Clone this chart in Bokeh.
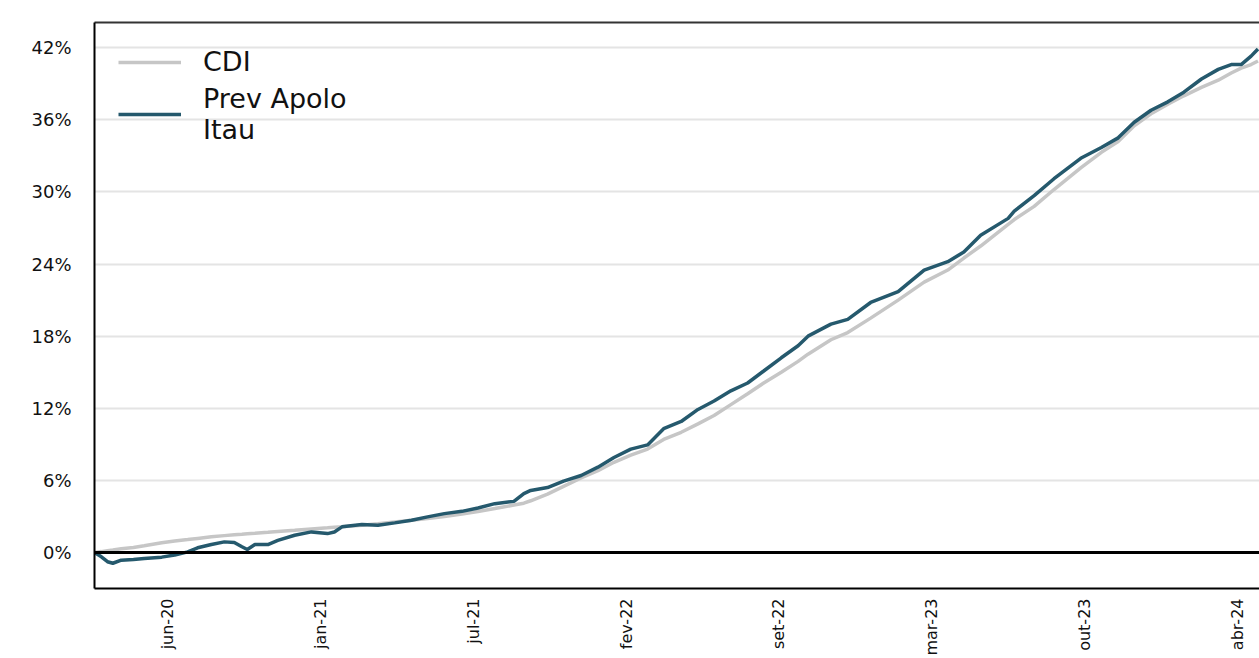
import math
from bokeh.plotting import figure
from bokeh.models import (ColumnDataSource, FixedTicker, PrintfTickFormatter, LinearAxis,
                          Range1d, Span, Legend, LegendItem)
from bokeh.embed import file_html
from bokeh.resources import INLINE

# days since 2020-03-20
days = [0, 9, 17, 24, 35, 51, 65, 88, 105, 122, 135, 153, 170, 183, 193, 200, 210, 227, 240,
        262, 284, 305, 314, 324, 350, 371, 393, 415, 436, 458, 481, 502, 524, 549, 562, 571,
        593, 614, 637, 659, 680, 702, 724, 745, 768, 790, 811, 833, 855, 876, 899, 921, 934,
        964, 986, 1016, 1052, 1086, 1117, 1138, 1160, 1196, 1204, 1230, 1256, 1291, 1318,
        1340, 1361, 1383, 1405, 1426, 1449, 1471, 1488, 1501, 1514, 1523]

prev_apolo = [0.0, -0.36, -0.77, -0.9, -0.64, -0.58, -0.5, -0.39, -0.22, 0.05, 0.39, 0.66,
              0.88, 0.83, 0.47, 0.25, 0.66, 0.66, 1.0, 1.43, 1.71, 1.57, 1.7, 2.13, 2.32,
              2.26, 2.46, 2.68, 2.96, 3.23, 3.42, 3.7, 4.06, 4.25, 4.9, 5.16, 5.4, 5.94, 6.4,
              7.1, 7.9, 8.6, 8.95, 10.3, 10.9, 11.9, 12.6, 13.45, 14.1, 15.1, 16.2, 17.2,
              18.0, 19.0, 19.4, 20.8, 21.7, 23.5, 24.2, 25.0, 26.4, 27.8, 28.4, 29.7, 31.1,
              32.8, 33.7, 34.5, 35.8, 36.8, 37.5, 38.3, 39.4, 40.2, 40.6, 40.6, 41.3, 41.9]

cdi = [0.0, 0.07, 0.15, 0.2, 0.3, 0.42, 0.55, 0.8, 0.95, 1.07, 1.17, 1.3, 1.4, 1.47, 1.52,
       1.56, 1.6, 1.68, 1.75, 1.85, 1.96, 2.05, 2.09, 2.13, 2.26, 2.38, 2.54, 2.68, 2.82,
       3.0, 3.2, 3.4, 3.65, 3.95, 4.1, 4.3, 4.85, 5.5, 6.2, 6.8, 7.5, 8.1, 8.6, 9.4, 10.0,
       10.7, 11.4, 12.3, 13.2, 14.1, 15.0, 15.9, 16.5, 17.7, 18.3, 19.5, 21.0, 22.5, 23.5,
       24.5, 25.5, 27.3, 27.7, 28.8, 30.2, 32.0, 33.3, 34.2, 35.5, 36.5, 37.3, 38.0, 38.7,
       39.3, 39.9, 40.3, 40.6, 40.9]

tick_days = [96, 296, 496, 696, 896, 1096, 1296, 1496]
tick_labels = ["jun-20", "jan-21", "jul-21", "fev-22", "set-22", "mar-23", "out-23", "abr-24"]
y_ticks = [0, 6, 12, 18, 24, 30, 36, 42]

src = ColumnDataSource(dict(x=days, fund=prev_apolo, cdi=cdi))

p = figure(width=1259, height=658, output_backend="svg", toolbar_location=None,
           x_range=Range1d(0, 1525), y_range=Range1d(-3.0, 44.1),
           min_border_left=94, min_border_right=0, min_border_top=22, min_border_bottom=66,
           x_axis_location="below", y_axis_location="left")
p.outline_line_color = None
p.background_fill_color = "white"
p.border_fill_color = "white"

FONT = "DejaVu Sans"

# grid
p.xgrid.visible = False
p.ygrid.ticker = FixedTicker(ticks=y_ticks)
p.ygrid.grid_line_color = "#e4e4e4"
p.ygrid.grid_line_width = 2

# y axis
ya = p.yaxis[0]
ya.ticker = FixedTicker(ticks=y_ticks)
ya.formatter = PrintfTickFormatter(format="%d%%")
ya.axis_line_color = "black"
ya.axis_line_width = 2
ya.major_tick_line_color = None
ya.minor_tick_line_color = None
ya.major_label_standoff = 17
ya.major_label_text_font = FONT
ya.major_label_text_font_size = "18px"
ya.major_label_text_color = "#111111"

# x axis
xa = p.xaxis[0]
xa.ticker = FixedTicker(ticks=tick_days)
xa.major_label_overrides = {d: lab for d, lab in zip(tick_days, tick_labels)}
xa.major_label_orientation = math.pi / 2
xa.axis_line_color = "black"
xa.axis_line_width = 2
xa.major_tick_line_color = None
xa.minor_tick_line_color = None
xa.major_tick_in = 0
xa.major_tick_out = 0
xa.major_label_standoff = 10
xa.major_label_text_font = FONT
xa.major_label_text_font_size = "16px"
xa.major_label_text_color = "#111111"

# top border
top = LinearAxis(ticker=FixedTicker(ticks=[]), axis_line_color="#333333", axis_line_width=2,
                 major_tick_line_color=None, minor_tick_line_color=None,
                 major_label_text_font_size="0px")
p.add_layout(top, "above")

# zero line
p.add_layout(Span(location=0, dimension="width", line_color="black", line_width=3))

r_cdi = p.line("x", "cdi", source=src, line_color="#c6c6c6", line_width=3.5)
r_fund = p.line("x", "fund", source=src, line_color="#25596d", line_width=3.5)

legend = Legend(items=[LegendItem(label="CDI", renderers=[r_cdi]),
                       LegendItem(label="Prev Apolo\nItau", renderers=[r_fund])],
                location="top_left", border_line_color=None, background_fill_alpha=0.0,
                label_text_font=FONT, label_text_font_size="27px", label_text_color="#111111",
                glyph_width=63, label_standoff=22, spacing=6, margin=24, padding=10)
p.add_layout(legend)

open("out.html", "w").write(file_html(p, INLINE))
